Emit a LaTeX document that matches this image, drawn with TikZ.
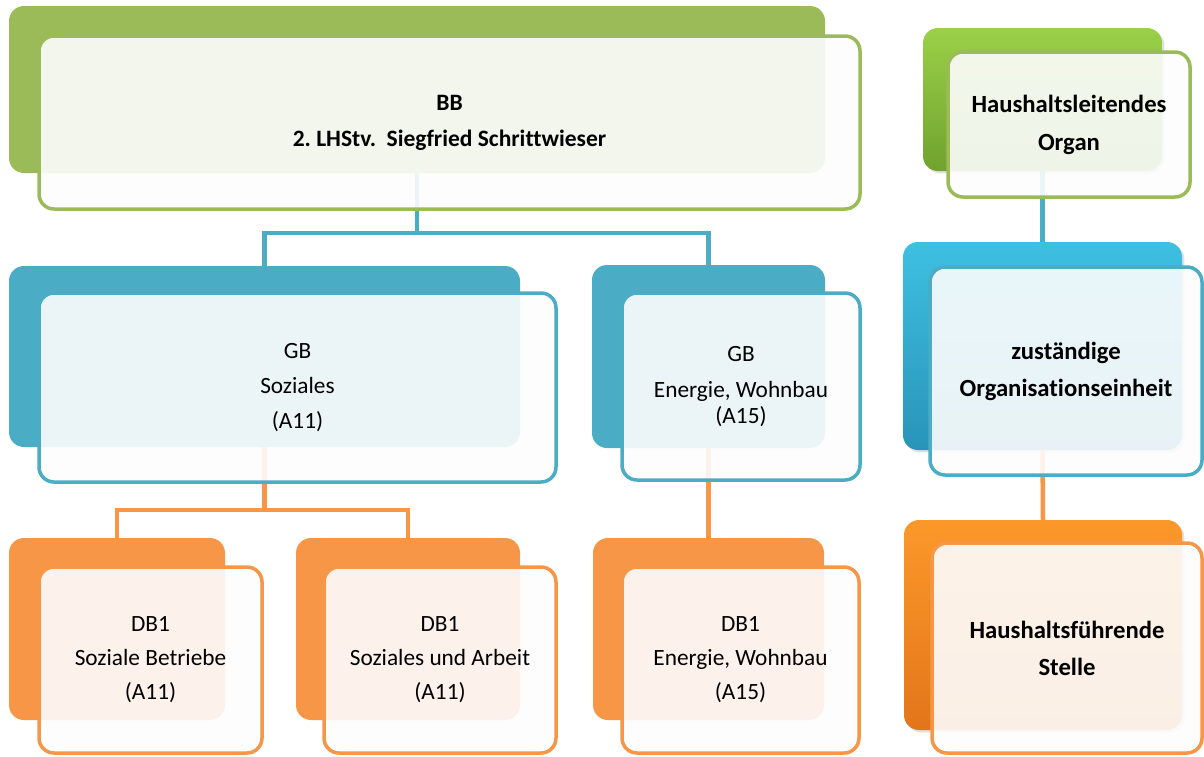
\documentclass[tikz,border=0pt]{standalone}
\usepackage{fontspec}
\setmainfont[Ligatures=NoCommon]{Carlito}
\usetikzlibrary{shadows}
\definecolor{grn}{RGB}{155,187,89}
\definecolor{blu}{RGB}{75,172,198}
\definecolor{org}{RGB}{247,150,70}
\definecolor{paper}{RGB}{253,253,253}
\definecolor{grnTop}{RGB}{155,208,72}
\definecolor{grnBot}{RGB}{112,162,46}
\definecolor{bluTop}{RGB}{62,192,226}
\definecolor{bluBot}{RGB}{40,148,184}
\definecolor{orgTop}{RGB}{252,152,42}
\definecolor{orgBot}{RGB}{226,118,26}

\begin{document}
\begin{tikzpicture}[x=1pt,y=-1pt,
	back/.style={rounded corners=15pt,anchor=north west,inner sep=0pt,outer sep=0pt},
	front/.style={back,draw,line width=3.5pt,fill=paper,fill opacity=0.9,text opacity=1,
		align=center,font=\fontsize{23.3}{35}\selectfont},
	bold/.style={font=\fontsize{24.7}{38}\selectfont\bfseries},
	link/.style={line width=4.5pt}]
	\useasboundingbox (0,0) rectangle (1204,756);
	% back plates
	\node[back,fill=grn,minimum width=816pt,minimum height=167pt] (bbBack) at (9,6) {};
	\node[back,fill=blu,minimum width=511pt,minimum height=181pt] (gbsBack) at (9,266) {};
	\node[back,fill=blu,minimum width=233pt,minimum height=183pt] (gbeBack) at (592,265) {};
	\node[back,fill=org,minimum width=216pt,minimum height=182pt] (dbaBack) at (9,538) {};
	\node[back,fill=org,minimum width=224pt,minimum height=182pt] (dbbBack) at (296,538) {};
	\node[back,fill=org,minimum width=231pt,minimum height=182pt] (dbcBack) at (593,538) {};
	% legend plates
	\node[back,drop shadow={opacity=0.25},top color=grnTop,bottom color=grnBot,
		minimum width=239pt,minimum height=143pt] (hlBack) at (923,28) {};
	\node[back,drop shadow={opacity=0.25},top color=bluTop,bottom color=bluBot,
		minimum width=279pt,minimum height=208pt] (zoBack) at (903,242) {};
	\node[back,drop shadow={opacity=0.25},top color=orgTop,bottom color=orgBot,
		minimum width=278pt,minimum height=210pt] (hfBack) at (904,520) {};
	% connectors
	\coordinate (busA) at (0,233);
	\coordinate (busB) at (0,510);
	\draw[link,blu] (bbBack.south) -- (bbBack.south |- busA) -| ([yshift=-6pt]gbsBack.north);
	\draw[link,blu] (bbBack.south |- busA) -| ([yshift=-6pt]gbeBack.north);
	\draw[link,org] (gbsBack.south) -- (gbsBack.south |- busB) -| ([yshift=-5pt]dbaBack.north);
	\draw[link,org] (gbsBack.south |- busB) -| ([yshift=-5pt]dbbBack.north);
	\draw[link,org] (gbeBack.south) -- (dbcBack.north);
	\draw[link,blu] (hlBack.south) -- (zoBack.north);
	\draw[link,org] (zoBack.south) -- (hfBack.north);
	% front plates
	\node[front,bold,font=\fontsize{23.5}{36}\selectfont\bfseries,draw=grn,
		minimum width=821pt,minimum height=173pt] (bb) at (39,36)
		{BB\\2.\ LHStv.\ \ Siegfried Schrittwieser};
	\node[front,draw=blu,minimum width=517pt,minimum height=189pt] (gbs) at (39,293)
		{GB\\Soziales\\(A11)};
	\node[front,draw=blu,minimum width=238pt,minimum height=187pt] (gbe) at (622,293)
		{GB\\[1pt]Energie, Wohnbau\\[-9pt](A15)};
	\node[front,draw=org,minimum width=223pt,minimum height=186pt] (dba) at (39,567)
		{DB1\\[-1pt]Soziale Betriebe\\[-1pt](A11)};
	\node[front,draw=org,minimum width=232pt,minimum height=186pt] (dbb) at (324,567)
		{DB1\\[-1pt]Soziales und Arbeit\\[-1pt](A11)};
	\node[front,draw=org,minimum width=237pt,minimum height=186pt] (dbc) at (622,567)
		{DB1\\[-1pt]Energie, Wohnbau\\[-1pt](A15)};
	\node[front,bold,draw=grn,minimum width=242pt,minimum height=145pt] (hl) at (948,52)
		{Haushaltsleitendes\\Organ};
	\node[front,bold,draw=blu,minimum width=272pt,minimum height=208pt] (zo) at (930,267)
		{zuständige\\[-1pt]Organisationseinheit};
	\node[front,bold,draw=org,minimum width=270pt,minimum height=210pt] (hf) at (932,543)
		{Haushaltsführende\\[-1pt]Stelle};
\end{tikzpicture}
\end{document}
